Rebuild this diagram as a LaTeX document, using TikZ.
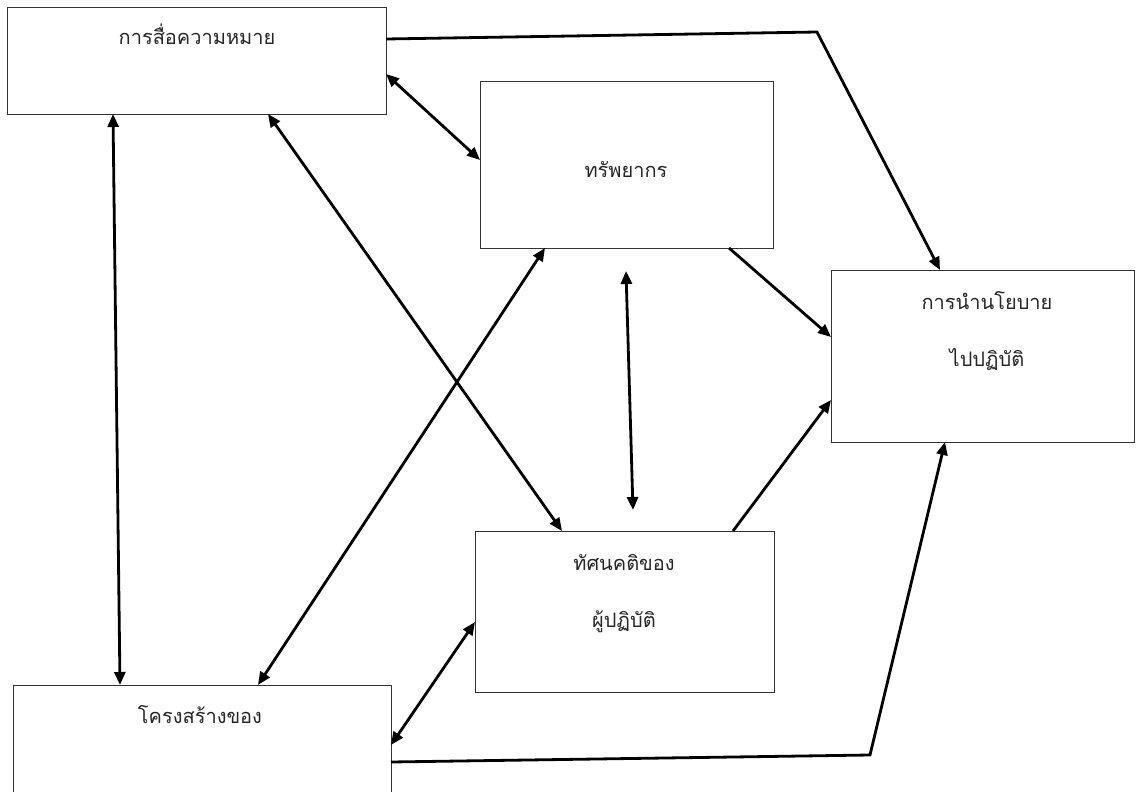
\documentclass[tikz,border=0pt]{standalone}
\usepackage{fontspec}
\newfontfamily\thaifont[Script=Thai]{Loma}
\usetikzlibrary{arrows.meta}
\begin{document}
\begin{tikzpicture}[x=1pt,y=-1pt,
  box/.style={draw=black!80,line width=0.9pt,inner sep=0pt,outer sep=0pt,rectangle},
  lbl/.style={font=\thaifont\fontsize{20}{24}\selectfont,anchor=base,inner sep=0pt,text=black!85},
  link/.style={line width=2.8pt,line join=miter,-{Triangle[length=13pt,width=11pt]}},
  blink/.style={line width=2.8pt,{Triangle[length=13pt,width=11pt]}-{Triangle[length=13pt,width=11pt]}}]
\useasboundingbox (0,0) rectangle (1136,792);
% boxes
\node[box,minimum width=379pt,minimum height=107pt] (A) at (196.5,60.5) {};
\node[box,minimum width=293pt,minimum height=167pt] (B) at (626.5,164.5) {};
\node[box,minimum width=303pt,minimum height=172pt] (C) at (982.5,356) {};
\node[box,minimum width=299pt,minimum height=161pt] (D) at (624.5,611.5) {};
\node[box,minimum width=378pt,minimum height=125pt] (E) at (202,747.5) {};
% texts
\node[lbl] (At) at (197,45) {การสื่อความหมาย};
\node[lbl] (Bt) at (626,177) {ทรัพยากร};
\node[lbl] (Ct1) at (987,309) {การนำนโยบาย};
\node[lbl] (Ct2) at (987,366) {ไปปฏิบัติ};
\node[lbl] (Dt1) at (624,570) {ทัศนคติของ};
\node[lbl] (Dt2) at (624,627) {ผู้ปฏิบัติ};
\node[lbl] (Et) at (200,723) {โครงสร้างของ};
% helper coordinates
\coordinate (ACbend) at (817,32);
\coordinate (ECbend) at (870,755);
\coordinate (BDtop) at (626,271);
\coordinate (BDbot) at (633,510);
% connectors
\draw[link] ([yshift=21.5pt]A.east) -- (ACbend) -- ([xshift=-42.5pt]C.north);
\draw[blink] ([yshift=-13.5pt]A.east) -- ([yshift=4.5pt]B.west);
\draw[blink] ([xshift=-83.5pt]A.south) -- ([xshift=-82pt]E.north);
\draw[blink] ([xshift=71.5pt]A.south) -- ([xshift=-62.5pt]D.north);
\draw[blink] ([xshift=56pt]E.north) -- ([xshift=-81.5pt]B.south);
\draw[blink] (BDtop) -- (BDbot);
\draw[link] ([xshift=102.5pt]B.south) -- ([yshift=19pt]C.west);
\draw[link] ([xshift=108.5pt]D.north) -- ([yshift=-44pt]C.west);
\draw[blink] ([yshift=2.5pt]E.east) -- ([yshift=-10.5pt]D.west);
\draw[link] ([yshift=-14.5pt]E.east) -- (ECbend) -- ([xshift=-37.5pt]C.south);
\end{tikzpicture}
\end{document}
